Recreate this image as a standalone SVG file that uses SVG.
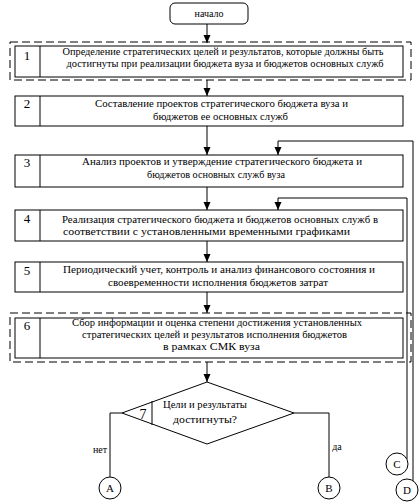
<svg xmlns="http://www.w3.org/2000/svg" width="419" height="504" viewBox="0 0 419 504">
<style>
  .box{fill:#fff;stroke:#000;stroke-width:1}
  .dash{fill:none;stroke:#000;stroke-width:1;stroke-dasharray:8,4}
  .ln{fill:none;stroke:#000;stroke-width:1}
  .t{font-family:"Liberation Serif","Times New Roman",serif;font-size:10px;fill:#000;text-anchor:middle}
  .n{font-family:"Liberation Serif","Times New Roman",serif;font-size:13px;fill:#000;text-anchor:middle}
  .c{font-family:"Liberation Serif","Times New Roman",serif;font-size:11px;fill:#000;text-anchor:middle}
</style>
<defs>
  <marker id="ah" markerWidth="7" markerHeight="8" refX="3.5" refY="8" orient="auto" markerUnits="userSpaceOnUse" viewBox="0 0 7 8">
    <path d="M0,0 L7,0 L3.5,8 Z" fill="#000" transform="rotate(-90 3.5 4)"/>
  </marker>
</defs>
<rect width="419" height="504" fill="#fff"/>

<g id="connectors">
  <path class="ln" d="M207,24 V43"/>
  <path class="ln" d="M207,80 V96"/>
  <path class="ln" d="M207,126 V155"/>
  <path class="ln" d="M207,187 V210"/>
  <path class="ln" d="M207,241 V262"/>
  <path class="ln" d="M207,292 V313"/>
  <path class="ln" d="M207,362 V382"/>
  <path class="ln" d="M413,481 V141 H278 V155"/>
  <path class="ln" d="M407,459 V198 H278 V210"/>
  <path class="ln" d="M122,413 H110 V477"/>
  <path class="ln" d="M294,413 H329 V477"/>
  <g fill="#000">
    <path d="M203.5,35 H210.5 L207,43 Z"/>
    <path d="M203.5,88 H210.5 L207,96 Z"/>
    <path d="M203.5,147 H210.5 L207,155 Z"/>
    <path d="M274.5,147 H281.5 L278,155 Z"/>
    <path d="M203.5,202 H210.5 L207,210 Z"/>
    <path d="M274.5,202 H281.5 L278,210 Z"/>
    <path d="M203.5,254 H210.5 L207,262 Z"/>
    <path d="M203.5,305 H210.5 L207,313 Z"/>
    <path d="M203.5,374 H210.5 L207,382 Z"/>
  </g>
  <text class="t" x="100" y="453">нет</text>
  <text class="t" x="337" y="450">да</text>
</g>

<g id="start">
  <rect class="box" x="170" y="3" width="78" height="21" rx="5"/>
  <text class="t" x="209" y="17">начало</text>
</g>

<g id="step1">
  <rect class="dash" x="10" y="42" width="401" height="38"/>
  <rect class="box" x="15" y="46" width="388" height="31"/>
  <line class="ln" x1="40" y1="46" x2="40" y2="77"/>
  <text class="n" x="27" y="60">1</text>
  <text class="t" x="223" y="55" textLength="321" lengthAdjust="spacingAndGlyphs">Определение стратегических целей и результатов, которые должны быть</text>
  <text class="t" x="225" y="67" textLength="317" lengthAdjust="spacingAndGlyphs">достигнуты при реализации бюджета вуза и бюджетов основных служб</text>
</g>

<g id="step2">
  <rect class="box" x="15" y="96" width="388" height="30"/>
  <line class="ln" x1="40" y1="96" x2="40" y2="126"/>
  <text class="n" x="27" y="108">2</text>
  <text class="t" x="221.5" y="107" textLength="253" lengthAdjust="spacingAndGlyphs">Составление проектов стратегического бюджета вуза и</text>
  <text class="t" x="220.5" y="120" textLength="135" lengthAdjust="spacingAndGlyphs">бюджетов ее основных служб</text>
</g>

<g id="step3">
  <rect class="box" x="15" y="155" width="388" height="32"/>
  <line class="ln" x1="40" y1="155" x2="40" y2="187"/>
  <text class="n" x="27" y="167">3</text>
  <text class="t" x="222" y="165" textLength="280" lengthAdjust="spacingAndGlyphs">Анализ проектов и утверждение стратегического бюджета и</text>
  <text class="t" x="216" y="178" textLength="138" lengthAdjust="spacingAndGlyphs">бюджетов  основных служб вуза</text>
</g>

<g id="step4">
  <rect class="box" x="15" y="210" width="388" height="31"/>
  <line class="ln" x1="40" y1="210" x2="40" y2="241"/>
  <text class="n" x="27" y="223">4</text>
  <text class="t" x="220" y="223" textLength="316" lengthAdjust="spacingAndGlyphs">Реализация стратегического бюджета и бюджетов основных служб в</text>
  <text class="t" x="206.5" y="235" textLength="287" lengthAdjust="spacingAndGlyphs">соответствии с установленными временными графиками</text>
</g>

<g id="step5">
  <rect class="box" x="15" y="262" width="388" height="30"/>
  <line class="ln" x1="40" y1="262" x2="40" y2="292"/>
  <text class="n" x="27" y="275">5</text>
  <text class="t" x="219" y="273" textLength="312" lengthAdjust="spacingAndGlyphs">Периодический учет, контроль и анализ финансового состояния и</text>
  <text class="t" x="218" y="286" textLength="220" lengthAdjust="spacingAndGlyphs">своевременности исполнения бюджетов затрат</text>
</g>

<g id="step6">
  <rect class="dash" x="10" y="313" width="401" height="49"/>
  <rect class="box" x="15" y="318" width="388" height="40"/>
  <line class="ln" x1="40" y1="318" x2="40" y2="358"/>
  <text class="n" x="27" y="330">6</text>
  <text class="t" x="217" y="326" textLength="290" lengthAdjust="spacingAndGlyphs">Сбор информации и оценка степени достижения установленных</text>
  <text class="t" x="214.5" y="338" textLength="265" lengthAdjust="spacingAndGlyphs">стратегических целей и результатов исполнения бюджетов</text>
  <text class="t" x="211.5" y="350" textLength="97" lengthAdjust="spacingAndGlyphs">в рамках СМК вуза</text>
</g>

<g id="decision7">
  <path class="box" d="M207,382 L294,413 L207,444 L122,413 Z"/>
  <line class="ln" x1="152" y1="401" x2="152" y2="425"/>
  <text class="n" x="143" y="419" style="font-size:14px">7</text>
  <text class="t" x="205" y="408" textLength="84" lengthAdjust="spacingAndGlyphs">Цели и результаты</text>
  <text class="t" x="205" y="423" textLength="64" lengthAdjust="spacingAndGlyphs">достигнуты?</text>
</g>

<g id="A"><circle class="box" cx="110" cy="488" r="11"/><text class="c" x="110" y="492">A</text></g>
<g id="B"><circle class="box" cx="329" cy="488" r="11"/><text class="c" x="329" y="492">B</text></g>
<g id="C"><circle class="box" cx="397" cy="464" r="11"/><text class="c" x="397" y="468">C</text></g>
<g id="D"><circle class="box" cx="407" cy="490" r="11"/><text class="c" x="407" y="494">D</text></g>
</svg>
